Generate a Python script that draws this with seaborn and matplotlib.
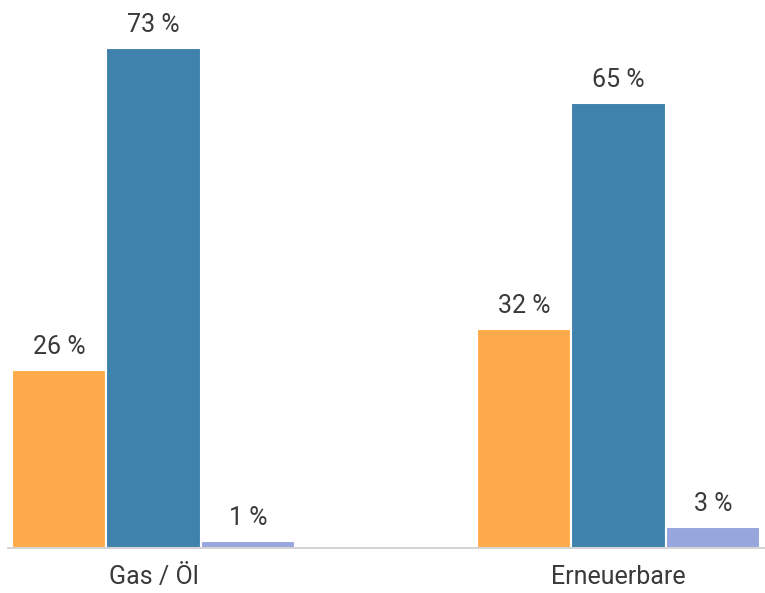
"""
Grouped bar chart - Gas / Öl vs. Erneuerbare
"""

import pandas as pd
import matplotlib.pyplot as plt
import seaborn as sns

# data
categories = ["Gas / Öl", "Erneuerbare"]
series = ["Serie 1", "Serie 2", "Serie 3"]
values_s1 = [26, 32]
values_s2 = [73, 65]
values_s3 = [1, 3]
colors = ["#FFAB4B", "#3F83AD", "#97A6DD"]

df = pd.DataFrame({
    "kategorie": categories * 3,
    "serie": [s for s in series for _ in categories],
    "wert": values_s1 + values_s2 + values_s3,
})

sns.set_style("white")
plt.rcParams['font.family'] = ['Roboto', 'DejaVu Sans']

fig = plt.figure(figsize=(7.65, 5.93), dpi=100)
ax = fig.add_axes([8 / 765, 45 / 593, 757 / 765, 548 / 593])

sns.barplot(data=df, x="kategorie", y="wert", hue="serie", order=categories,
            hue_order=series, palette=colors, width=0.61, ax=ax,
            edgecolor="white", linewidth=1.5, saturation=1, legend=False)

for cont in ax.containers:
    ax.bar_label(cont, labels=[f"{v:.0f} %" for v in cont.datavalues],
                 padding=8, fontsize=18, color="#3a3a3a")

ax.set_xlim(-0.313, 1.315)
ax.set_ylim(0, 80)
ax.set_xlabel("")
ax.set_ylabel("")
ax.set_yticks([])
for side in ["top", "left", "right"]:
    ax.spines[side].set_visible(False)
ax.spines["bottom"].set_color("#cccccc")
ax.spines["bottom"].set_linewidth(1.2)
ax.tick_params(axis="x", length=0, pad=12, labelsize=18, labelcolor="#3a3a3a")

fig.savefig("out.png", dpi=100)
plt.close(fig)
